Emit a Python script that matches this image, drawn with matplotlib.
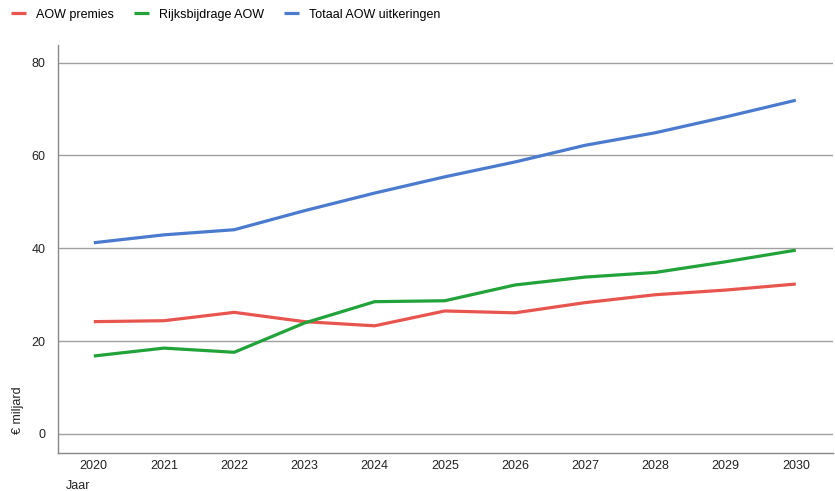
import matplotlib.pyplot as plt

plt.rcParams['font.family'] = ['Liberation Sans', 'DejaVu Sans']

# Data (billion euro)
jaren = [2020, 2021, 2022, 2023, 2024, 2025, 2026, 2027, 2028, 2029, 2030]
aow_premies = [24.2, 24.4, 26.2, 24.2, 23.3, 26.5, 26.1, 28.3, 30.0, 31.0, 32.3]
rijksbijdrage = [16.8, 18.5, 17.6, 23.9, 28.5, 28.7, 32.1, 33.8, 34.8, 37.1, 39.6]
totaal = [41.2, 42.9, 44.0, 48.1, 51.9, 55.4, 58.6, 62.2, 64.9, 68.3, 71.9]

labels = ['AOW premies', 'Rijksbijdrage AOW', 'Totaal AOW uitkeringen']
colors = ['#e8554e', '#21a339', '#4b7bcf']

fig = plt.figure(figsize=(8.35, 4.91), dpi=100)
ax = fig.add_axes([58 / 835, 38 / 491, 775 / 835, 408 / 491])

for values, label, color in zip([aow_premies, rijksbijdrage, totaal], labels, colors):
    ax.plot(jaren, values, color=color, linewidth=2.3, label=label,
            solid_capstyle='butt')

ax.set_xlim(2019.49, 2030.53)
ax.set_ylim(-4.1, 83.8)
ax.set_xticks(jaren)
ax.set_yticks([0, 20, 40, 60, 80])
ax.grid(axis='y', color='#a0a0a0', linewidth=1)
ax.set_axisbelow(True)
ax.tick_params(length=0, labelsize=9, colors='#222222')
ax.tick_params(axis='x', pad=5)
ax.tick_params(axis='y', pad=9)

for side in ['top', 'right']:
    ax.spines[side].set_visible(False)
for side in ['left', 'bottom']:
    ax.spines[side].set_color('#888888')
    ax.spines[side].set_linewidth(1)

fig.text(78 / 835, 1 - 486 / 491, 'Jaar', fontsize=9, ha='center', va='center', color='#222222')
fig.text(18 / 835, 1 - 410 / 491, '€ miljard', fontsize=9, rotation=90,
         ha='center', va='center', color='#222222')

fig.legend(loc='upper left', bbox_to_anchor=(0.0, 1.005), ncol=3, frameon=False,
           fontsize=9, handlelength=1.2, handletextpad=0.8, columnspacing=1.6)

plt.savefig('out.png', dpi=100)
